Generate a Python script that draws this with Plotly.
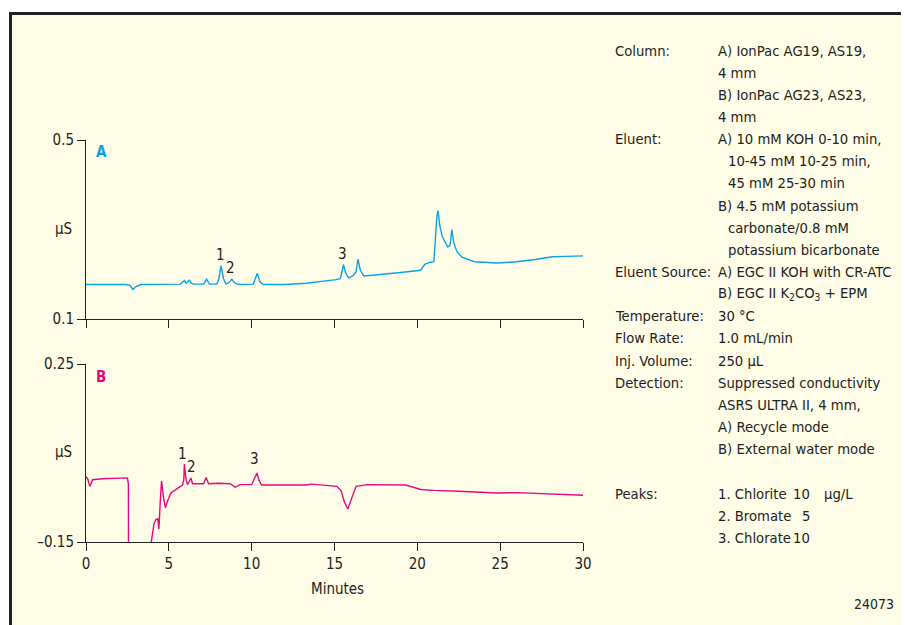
import plotly.graph_objects as go

# ---------------- data ----------------
time_a = [0, 2.4, 2.65, 2.83, 3.0, 3.3, 5.7, 5.85, 5.94, 6.05, 6.15, 6.24, 6.35, 6.5,
          7.1, 7.28, 7.45, 7.9, 8.02, 8.15, 8.3, 8.45, 8.65, 8.8, 8.95, 9.2,
          10.1, 10.22, 10.34, 10.5, 10.7, 12.0, 13.3, 15.1, 15.35, 15.45, 15.54, 15.65,
          15.84, 16.1, 16.3, 16.42, 16.55, 16.76, 17.5, 17.9, 19.0, 20.2, 20.45, 20.7,
          21.0, 21.1, 21.18, 21.25, 21.35, 21.5, 21.83, 21.98, 22.08, 22.2, 22.4, 22.7,
          23.44, 24.8, 26.0, 27.1, 28.16, 29.0, 30]
signal_a = [0.177, 0.177, 0.175, 0.166, 0.172, 0.177, 0.178, 0.183, 0.186, 0.180, 0.184, 0.187, 0.180, 0.178,
            0.178, 0.189, 0.178, 0.178, 0.190, 0.219, 0.190, 0.178, 0.182, 0.189, 0.181, 0.177,
            0.178, 0.190, 0.202, 0.183, 0.177, 0.177, 0.180, 0.188, 0.190, 0.205, 0.222, 0.205,
            0.192, 0.196, 0.205, 0.234, 0.210, 0.196, 0.198, 0.200, 0.204, 0.209, 0.222, 0.226,
            0.228, 0.280, 0.330, 0.342, 0.310, 0.285, 0.261, 0.265, 0.300, 0.270, 0.250, 0.238,
            0.228, 0.225, 0.228, 0.233, 0.239, 0.240, 0.241]

time_b = [0, 0.1, 0.23, 0.4, 1.0, 2.0, 2.5, 2.56, 2.57, 3.9, 3.94, 4.1, 4.21, 4.33, 4.4, 4.48,
          4.56, 4.68, 4.79, 4.95, 5.13, 5.5, 5.83, 5.9, 5.94, 6.02, 6.12, 6.22, 6.33, 6.43,
          6.7, 7.1, 7.25, 7.4, 8.0, 8.7, 9.0, 9.3, 10.0, 10.15, 10.32, 10.45, 10.6, 12.0,
          13.3, 13.6, 15.15, 15.4, 15.6, 15.8, 16.0, 16.3, 17.0, 17.9, 19.3, 20.2, 21.0,
          22.5, 24.8, 26.0, 27.1, 28.5, 30]
signal_b = [-0.003, -0.008, -0.025, -0.010, -0.008, -0.007, -0.006, -0.020, -0.400, -0.400, -0.150,
            -0.110, -0.100, -0.098, -0.121, -0.060, -0.013, -0.050, -0.073, -0.055, -0.040, -0.030,
            -0.022, -0.010, 0.025, -0.005, -0.021, -0.015, -0.006, -0.019, -0.019, -0.019, -0.005,
            -0.019, -0.018, -0.019, -0.027, -0.021, -0.021, -0.010, 0.005, -0.012, -0.022, -0.022,
            -0.022, -0.020, -0.025, -0.035, -0.060, -0.076, -0.055, -0.025, -0.021, -0.021, -0.022,
            -0.032, -0.034, -0.036, -0.040, -0.039, -0.041, -0.043, -0.045]

peak_labels = ["1", "2", "3"]
peak_time_a = [8.1, 8.75, 15.5]
peak_y_a = [0.243, 0.214, 0.245]
peak_time_b = [5.8, 6.35, 10.2]
peak_y_b = [0.048, 0.019, 0.037]

x_ticks = [0, 5, 10, 15, 20, 25, 30]
y_ticks_a = [0.1, 0.5]
y_ticklabels_a = ["0.1", "0.5"]
y_ticks_b = [-0.15, 0.25]
y_ticklabels_b = ["\u20130.15", "0.25"]

left_labels = ["Column:", "Eluent:", "Eluent Source:", "Temperature:", "Flow Rate:",
               "Inj. Volume:", "Detection:", "Peaks:"]
left_rows = [0, 4, 10, 12, 13, 14, 15, 20]
right_lines = ["A) IonPac AG19, AS19,", "4 mm", "B) IonPac AG23, AS23,", "4 mm",
               "A) 10 mM KOH 0-10 min,", "10-45 mM 10-25 min,", "45 mM 25-30 min",
               "B) 4.5 mM potassium", "carbonate/0.8 mM", "potassium bicarbonate",
               "A) EGC II KOH with CR-ATC", "B) EGC II K<sub>2</sub>CO<sub>3</sub> + EPM",
               "30 \u00b0C", "1.0 mL/min", "250 \u00b5L", "Suppressed conductivity",
               "ASRS ULTRA II, 4 mm,", "A) Recycle mode", "B) External water mode"]
right_indent = [0, 0, 0, 0, 0, 1, 1, 0, 1, 1, 0, 0, 0, 0, 0, 0, 0, 0, 0]
peak_names = ["1. Chlorite", "2. Bromate", "3. Chlorate"]
peak_amounts = ["10", "5", "10"]

# ---------------- layout helpers ----------------
OFF = 8  # page body margin of the browser
W, H = 909, 625
X0, X1 = 86, 583      # reference pixel columns of t=0 and t=30
YT, YB = 140, 542     # reference pixel rows of top of A and bottom of B
L, T = X0 - OFF, YT - OFF
R, B = W - (X1 - OFF), H - (YB - OFF)
PW, PH = X1 - X0, YB - YT


def px(xp):
    return (xp - X0) / PW


def py(yp):
    return (YB - yp) / PH


FONT = "DejaVu Sans Condensed, DejaVu Sans, sans-serif"
FS = 14.7
BLUE = "#0AA2E6"
MAGENTA = "#E5097F"
BG = "#FFFDE8"
INK = "#222222"

fig = go.Figure()
fig.add_trace(go.Scatter(x=time_a, y=signal_a, mode="lines", line=dict(color=BLUE, width=1.4),
                         xaxis="x", yaxis="y", hoverinfo="skip"))
fig.add_trace(go.Scatter(x=time_b, y=signal_b, mode="lines", line=dict(color=MAGENTA, width=1.4),
                         xaxis="x2", yaxis="y2", hoverinfo="skip"))

axis_common = dict(showline=True, linecolor=INK, linewidth=1, ticks="outside", tickcolor=INK,
                   ticklen=8, tickwidth=1, showgrid=False, zeroline=False,
                   tickfont=dict(family=FONT, size=15, color=INK))

dom_a = [py(319), 1]
dom_b = [0, py(364)]

fig.update_layout(
    width=W, height=H,
    margin=dict(l=L, r=R, t=T, b=B),
    paper_bgcolor="white",
    plot_bgcolor="rgba(0,0,0,0)",
    showlegend=False,
    xaxis=dict(domain=[0, 1], range=[0, 30], anchor="y", tickvals=x_ticks,
               showticklabels=False, **axis_common),
    yaxis=dict(domain=dom_a, range=[0.1, 0.5], anchor="x", tickvals=y_ticks_a,
               ticktext=y_ticklabels_a, **axis_common),
    xaxis2=dict(domain=[0, 1], range=[0, 30], anchor="y2", tickvals=x_ticks,
                **axis_common),
    yaxis2=dict(domain=dom_b, range=[-0.15, 0.25], anchor="x2", tickvals=y_ticks_b,
                ticktext=y_ticklabels_b, **axis_common),
)

shapes = [
    dict(type="rect", xref="paper", yref="paper", x0=px(10), x1=px(W + 20), y0=py(H + 20), y1=py(13),
         fillcolor=BG, line=dict(width=0), layer="below"),
    dict(type="line", xref="paper", yref="paper", x0=px(10.5), x1=px(10.5), y0=py(H + 20), y1=py(12),
         line=dict(color=INK, width=3)),
    dict(type="line", xref="paper", yref="paper", x0=px(9), x1=px(W + 20), y0=py(13.5), y1=py(13.5),
         line=dict(color=INK, width=3)),
]
fig.update_layout(shapes=shapes)

ann = []


def text(xp, yp, s, anchor="left", size=FS, color=INK, bold=False):
    ann.append(dict(x=px(xp), y=py(yp), xref="paper", yref="paper", text=(f"<b>{s}</b>" if bold else s),
                    showarrow=False, xanchor=anchor, yanchor="middle",
                    font=dict(family=FONT, size=size, color=color)))


# panel letters and axis units
text(101, 152, "A", anchor="center", size=15, color=BLUE, bold=True)
text(101, 377, "B", anchor="center", size=15, color=MAGENTA, bold=True)
text(63, 229, "\u00b5S", anchor="center", size=15)
text(63, 452, "\u00b5S", anchor="center", size=15)
text(337, 589, "Minutes", anchor="center", size=15)

# peak labels
for lab, t, v in zip(peak_labels, peak_time_a, peak_y_a):
    ann.append(dict(x=t, y=v, xref="x", yref="y", text=lab, showarrow=False,
                    font=dict(family=FONT, size=15, color=INK)))
for lab, t, v in zip(peak_labels, peak_time_b, peak_y_b):
    ann.append(dict(x=t, y=v, xref="x2", yref="y2", text=lab, showarrow=False,
                    font=dict(family=FONT, size=15, color=INK)))

# conditions text block
row0, dy = 50, 22.15
for s, r in zip(left_labels, left_rows):
    text(613, row0 + dy * r, s)
for i, (s, ind) in enumerate(zip(right_lines, right_indent)):
    text(726 if ind else 716, row0 + dy * i, s)
for j, (nm, amt) in enumerate(zip(peak_names, peak_amounts)):
    yy = row0 + dy * (20 + j)
    text(716, yy, nm)
    text(812, yy, amt, anchor="right")
text(822, row0 + dy * 20, "\u00b5g/L")
text(896, 604, "24073", anchor="right", size=14)

fig.update_layout(annotations=ann)
fig.write_html("out.html")
